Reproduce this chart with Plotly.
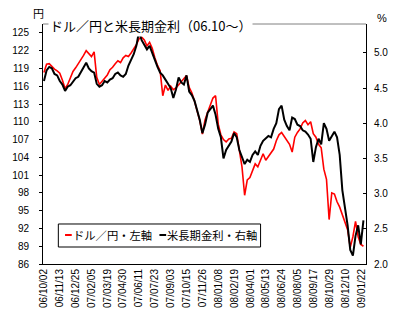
import pandas as pd
import plotly.graph_objects as go

# Weekly closes, starting Monday 2006-10-02
usd_jpy = [
    118.3, 119.7, 119.8, 119.3, 118.9, 118.6, 118.2, 117.0, 115.6, 116.3,
    117.4, 118.5, 119.1, 119.8, 120.3, 121.2, 122.0, 121.4, 121.0, 121.8,
    117.5, 116.3, 116.8, 117.4, 117.9, 118.8, 119.2, 119.8, 120.3, 120.0,
    120.8, 121.2, 121.0, 121.6, 122.3, 123.0, 124.0, 124.3, 123.8, 122.8,
    123.4, 122.4, 120.8, 119.5, 118.6, 114.4, 116.2, 115.3, 116.0, 115.4,
    115.7, 116.2, 116.8, 117.3, 117.8, 115.8, 114.9, 113.5, 112.0, 110.2,
    107.9, 110.3, 111.6, 112.9, 114.0, 114.4, 109.6, 107.8, 107.0, 106.6,
    107.1, 107.2, 108.3, 108.0, 105.5, 102.4, 97.6, 100.2, 100.6, 101.6,
    102.9, 102.4, 103.4, 104.6, 103.5, 104.2, 104.8, 105.4, 106.8, 107.8,
    108.2, 107.6, 106.8, 106.2, 104.9, 107.4, 108.2, 108.8, 109.8, 110.2,
    109.5, 110.0, 108.0, 107.4, 106.2, 105.6, 102.0, 100.3, 93.5, 98.0,
    97.8, 96.5, 95.6, 94.2, 93.0, 91.8, 88.8, 90.6, 93.2, 90.6,
    89.3, 89.0,
]

us_10y = [
    4.60, 4.75, 4.80, 4.78, 4.70, 4.68, 4.60, 4.55, 4.46, 4.52,
    4.54, 4.60, 4.64, 4.66, 4.72, 4.78, 4.86, 4.78, 4.74, 4.72,
    4.56, 4.52, 4.54, 4.60, 4.58, 4.62, 4.64, 4.70, 4.72, 4.68,
    4.66, 4.70, 4.82, 4.90, 4.98, 5.10, 5.30, 5.18, 5.12, 5.05,
    5.10, 5.00, 4.88, 4.80, 4.72, 4.68, 4.62, 4.55, 4.50, 4.36,
    4.48, 4.65, 4.58, 4.55, 4.68, 4.45, 4.40, 4.32, 4.20, 4.05,
    3.86, 3.98, 4.15, 4.20, 4.25, 4.12, 3.92, 3.80, 3.50, 3.62,
    3.68, 3.74, 3.86, 3.80, 3.62, 3.52, 3.42, 3.48, 3.45, 3.55,
    3.60, 3.55, 3.68, 3.75, 3.78, 3.82, 3.80, 3.92, 4.00, 4.20,
    4.25, 4.05, 3.96, 3.90, 4.08, 4.06, 3.98, 3.96, 3.90, 3.88,
    3.84, 3.78, 3.45, 3.66, 3.78, 3.70, 4.00, 3.92, 3.75, 3.82,
    3.88, 3.80, 3.55, 3.05, 2.78, 2.55, 2.20, 2.12, 2.40, 2.55,
    2.28, 2.62,
]

week_dates = pd.date_range("2006-10-02", periods=len(usd_jpy), freq="7D")

tick_dates = [
    "2006-10-02", "2006-11-13", "2006-12-25", "2007-02-05", "2007-03-19",
    "2007-04-30", "2007-06-11", "2007-07-23", "2007-09-03", "2007-10-15",
    "2007-11-26", "2008-01-08", "2008-02-19", "2008-04-01", "2008-05-13",
    "2008-06-24", "2008-08-05", "2008-09-17", "2008-10-29", "2008-12-10",
    "2009-01-22",
]
tick_labels = [
    "06/10/02", "06/11/13", "06/12/25", "07/02/05", "07/03/19",
    "07/04/30", "07/06/11", "07/07/23", "07/09/03", "07/10/15",
    "07/11/26", "08/01/08", "08/02/19", "08/04/01", "08/05/13",
    "08/06/24", "08/08/05", "08/09/17", "08/10/29", "08/12/10",
    "09/01/22",
]
yen_ticks = list(range(86, 126, 3))
rate_ticks = [2.0, 2.5, 3.0, 3.5, 4.0, 4.5, 5.0]

series_names = ["ドル／円・左軸", "米長期金利・右軸"]
series_colors = ["#ff0000", "#000000"]

LATIN = "Liberation Sans, Arial, sans-serif"
CJK = "Noto Sans CJK JP, sans-serif"

fig = go.Figure()
fig.add_trace(go.Scatter(
    x=week_dates, y=usd_jpy, mode="lines", name=series_names[0],
    line=dict(color=series_colors[0], width=1.6), showlegend=False,
))
fig.add_trace(go.Scatter(
    x=week_dates, y=us_10y, mode="lines", name=series_names[1], yaxis="y2",
    line=dict(color=series_colors[1], width=2), showlegend=False,
))

fig.update_layout(
    width=400, height=331,
    margin=dict(l=32, r=31, t=24, b=67),
    paper_bgcolor="white", plot_bgcolor="white",
    font=dict(family=LATIN, size=10, color="black"),
    xaxis=dict(
        type="date", range=["2006-09-29 12:00", "2009-02-01 18:00"],
        tickmode="array", tickvals=tick_dates, ticktext=tick_labels,
        tickangle=-90, tickfont=dict(family=LATIN, size=10),
        showgrid=False, zeroline=False, ticks="",
        showline=True, linecolor="black", linewidth=1,
    ),
    yaxis=dict(
        range=[86, 126.5], tickmode="array", tickvals=yen_ticks,
        ticks="outside", ticklen=3, tickcolor="black", tickwidth=1,
        showgrid=False, zeroline=False,
        showline=True, linecolor="black", linewidth=1,
        tickfont=dict(family=LATIN, size=10), ticklabelstandoff=8,
    ),
    yaxis2=dict(
        range=[2.0, 5.41], overlaying="y", side="right",
        tickmode="array", tickvals=rate_ticks, tickformat=".1f",
        ticks="inside", ticklen=3, tickcolor="black", tickwidth=1,
        showgrid=False, zeroline=False,
        showline=True, linecolor="black", linewidth=1,
        tickfont=dict(family=LATIN, size=10), ticklabelstandoff=5,
    ),
)

# plot-area top border
fig.add_shape(type="line", xref="paper", yref="paper", x0=0, x1=1, y0=1, y1=1,
              line=dict(color="#808080", width=1))

# chart title sitting on the top border
fig.add_annotation(
    text="ドル／円と米長期金利（06.10～）", xref="paper", yref="paper",
    x=0.016, y=1, xanchor="left", yanchor="middle", yshift=-1, showarrow=False,
    font=dict(family=CJK, size=13, color="black"), bgcolor="white", borderpad=1,
)

# axis unit labels
fig.add_annotation(text="円", xref="paper", yref="paper", x=-0.0134, y=1.045,
                   xanchor="center", yanchor="middle", showarrow=False,
                   font=dict(family=CJK, size=11, color="black"))
fig.add_annotation(text="%", xref="paper", yref="paper", x=1.049, y=1.027,
                   xanchor="center", yanchor="middle", showarrow=False,
                   font=dict(family=LATIN, size=11, color="black"))

# legend box
fig.add_shape(type="rect", xref="paper", yref="paper",
              x0=0.0475, x1=0.6736, y0=0.0708, y1=0.1667,
              line=dict(color="black", width=1), fillcolor="white", layer="above")
legend_keys = [(0.0682, 0.0890, 0.0860), (0.3605, 0.3813, 0.3790)]
for (kx0, kx1, tx), name, color in zip(legend_keys, series_names, series_colors):
    fig.add_shape(type="line", xref="paper", yref="paper",
                  x0=kx0, x1=kx1, y0=0.1208, y1=0.1208,
                  line=dict(color=color, width=2), layer="above")
    fig.add_annotation(text=name, xref="paper", yref="paper", x=tx, y=0.1208,
                       xanchor="left", yanchor="middle", showarrow=False,
                       font=dict(family=CJK, size=11.3, color="black"))

fig.write_html("out.html")
